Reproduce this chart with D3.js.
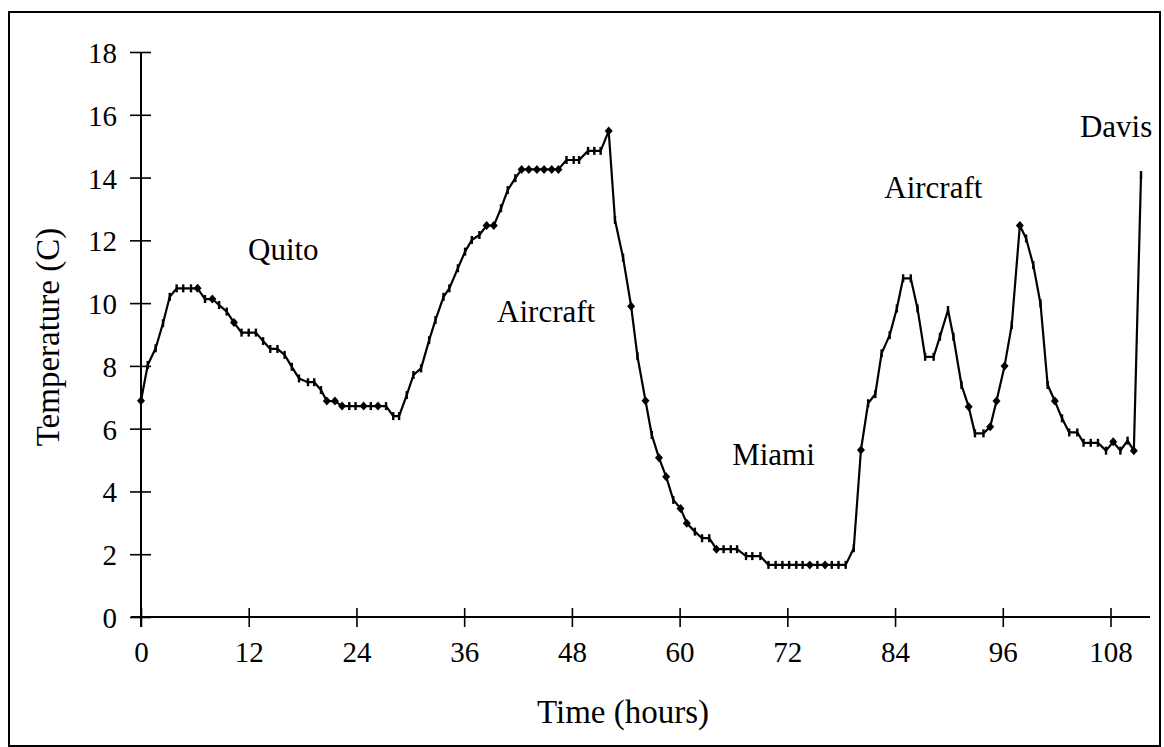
<!DOCTYPE html>
<html>
<head>
<meta charset="utf-8">
<script src="https://cdn.jsdelivr.net/npm/d3@7/dist/d3.min.js"></script>
<style>
  html, body { margin: 0; padding: 0; background: #fff; }
  svg { display: block; }
  text { font-family: "Liberation Serif", "Times New Roman", serif; fill: #000; }
</style>
</head>
<body>
<svg id="chart" width="1164" height="747"></svg>
<script>
// ---- data ----
const hours = [
  0, 0.75, 1.63, 2.45, 3.2, 3.97, 4.7, 5.57, 6.3, 7.13, 7.95, 8.7, 9.55, 10.36, 11.2, 12.0, 12.8,
  13.6, 14.4, 15.2, 16.0, 16.8, 17.6, 18.6, 19.3, 20.05, 20.7, 21.6, 22.4, 23.2, 23.9, 24.8, 25.6,
  26.4, 27.3, 28.1, 28.75, 29.6, 30.35, 31.2, 32.1, 32.8, 33.7, 34.35, 35.3, 36.1, 36.85, 37.7,
  38.5, 39.3, 40.1, 40.85, 41.7, 42.4, 43.2, 44.1, 44.9, 45.75, 46.5, 47.4, 48.2, 48.8, 49.8,
  50.5, 51.2, 52.1, 52.8, 53.7, 54.6, 55.3, 56.2, 56.9, 57.7, 58.5, 59.3, 60.1, 60.8, 61.7, 62.5,
  63.3, 64.1, 64.9, 65.7, 66.4, 67.4, 68.1, 69.0, 69.9, 70.7, 71.45, 72.2, 73.0, 73.7, 74.5, 75.35,
  76.2, 76.95, 77.7, 78.5, 79.4, 80.2, 81.0, 81.8, 82.5, 83.4, 84.2, 84.9, 85.75, 86.5, 87.35, 88.3,
  89.0, 89.9, 90.5, 91.4, 92.2, 92.9, 93.85, 94.6, 95.3, 96.2, 97.0, 97.9, 98.6, 99.4, 100.2, 101.0,
  101.8, 102.6, 103.4, 104.3, 105.0, 105.8, 106.6, 107.5, 108.3, 109.1, 109.9, 110.6, 111.4
];
const temps = [
  6.89, 8.03, 8.56, 9.36, 10.2, 10.47, 10.47, 10.47, 10.47, 10.13, 10.13, 9.94, 9.73, 9.38, 9.06, 9.06, 9.06,
  8.79, 8.54, 8.54, 8.35, 7.97, 7.6, 7.48, 7.48, 7.23, 6.88, 6.88, 6.72, 6.72, 6.72, 6.72, 6.72,
  6.72, 6.72, 6.4, 6.4, 7.07, 7.71, 7.92, 8.82, 9.46, 10.2, 10.47, 11.11, 11.64, 12.01, 12.17,
  12.47, 12.47, 13.02, 13.6, 13.98, 14.26, 14.26, 14.26, 14.26, 14.26, 14.26, 14.56, 14.56, 14.56, 14.85,
  14.85, 14.85, 15.48, 12.65, 11.45, 9.9, 8.31, 6.89, 5.8, 5.07, 4.47, 3.73, 3.46, 2.99, 2.72, 2.51,
  2.51, 2.16, 2.16, 2.16, 2.16, 1.94, 1.94, 1.94, 1.66, 1.66, 1.66, 1.66, 1.66, 1.66, 1.66, 1.66,
  1.66, 1.66, 1.66, 1.66, 2.19, 5.32, 6.81, 7.1, 8.4, 8.98, 9.83, 10.79, 10.79, 9.83, 8.29, 8.29,
  8.93, 9.78, 8.93, 7.39, 6.7, 5.85, 5.85, 6.06, 6.88, 8.0, 9.3, 12.47, 12.06, 11.21, 9.99, 7.39,
  6.88, 6.33, 5.88, 5.88, 5.55, 5.55, 5.55, 5.3, 5.58, 5.3, 5.62, 5.3, 14.08
];
const diamondHours = [0, 6.3, 7.95, 10.36, 20.7, 21.6, 22.4, 24.8, 26.4, 38.5, 39.3,
  42.4, 43.2, 44.1, 44.9, 45.75, 46.5, 52.1, 54.6, 56.2, 57.7, 58.5, 60.1, 60.8, 64.1,
  74.5, 76.2, 80.2, 92.2, 94.6, 95.3, 96.2, 97.9, 101.8, 108.3, 110.6];
const xTicks = [0, 12, 24, 36, 48, 60, 72, 84, 96, 108];
const yTicks = [0, 2, 4, 6, 8, 10, 12, 14, 16, 18];
const labels = [
  {text: "Quito", t: 11.92, v: 11.37},
  {text: "Aircraft", t: 39.67, v: 9.40},
  {text: "Miami", t: 65.85, v: 4.84},
  {text: "Aircraft", t: 82.8, v: 13.35},
  {text: "Davis", t: 104.6, v: 15.29}
];
const xTitle = "Time (hours)";
const yTitle = "Temperature (C)";

// ---- layout ----
const svg = d3.select("#chart");
const x = d3.scaleLinear().domain([0, 112.4]).range([141, 1150]);
const y = d3.scaleLinear().domain([0, 18]).range([617, 52]);

// outer frame
svg.append("rect").attr("x", 9).attr("y", 12).attr("width", 1151).attr("height", 734)
  .attr("fill", "none").attr("stroke", "#000").attr("stroke-width", 2);

// x axis
const xAxis = d3.axisBottom(x).tickValues(xTicks).tickSize(10).tickPadding(14).tickFormat(d3.format("d"));
const gx = svg.append("g").attr("transform", `translate(0,${y(0)})`).call(xAxis);
gx.select(".domain").attr("stroke-width", 2).attr("d", `M${x(0) - 10},0H${x.range()[1]}`);
gx.selectAll(".tick line").attr("y1", -9).attr("y2", 10).attr("stroke-width", 1.6);
gx.selectAll(".tick text").attr("font-size", 29).attr("font-family", "Liberation Serif").attr("dy", "0.71em");

// y axis
const yAxis = d3.axisLeft(y).tickValues(yTicks).tickSize(11).tickPadding(13).tickFormat(d3.format("d"));
const gy = svg.append("g").attr("transform", `translate(${x(0)},0)`).call(yAxis);
gy.select(".domain").attr("stroke-width", 2).attr("d", `M0,${y(18)}V${y(0) + 10}`);
gy.selectAll(".tick line").attr("x1", -11).attr("x2", 10).attr("stroke-width", 1.6);
gy.selectAll(".tick text").attr("font-size", 29).attr("font-family", "Liberation Serif").attr("dy", "0.36em");

// line
const pts = hours.map((h, i) => ({t: h, v: temps[i]}));
const line = d3.line().x(d => x(d.t)).y(d => y(d.v));
svg.append("path").datum(pts).attr("d", line).attr("fill", "none")
  .attr("stroke", "#000").attr("stroke-width", 2.2).attr("stroke-linejoin", "round");

// markers
const dset = new Set(diamondHours);
svg.append("g").selectAll("rect").data(pts.filter(d => !dset.has(d.t))).join("rect")
  .attr("x", d => x(d.t) - 1.2).attr("y", d => y(d.v) - 4)
  .attr("width", 2.4).attr("height", 8).attr("fill", "#000");
svg.append("g").selectAll("path").data(pts.filter(d => dset.has(d.t))).join("path")
  .attr("transform", d => `translate(${x(d.t)},${y(d.v)})`)
  .attr("d", "M0,-4.5L4,0L0,4.5L-4,0Z").attr("fill", "#000");

// annotations
svg.append("g").selectAll("text").data(labels).join("text")
  .attr("x", d => x(d.t)).attr("y", d => y(d.v))
  .attr("font-size", 31).text(d => d.text);

// axis titles
svg.append("text").attr("x", 623).attr("y", 723).attr("text-anchor", "middle")
  .attr("font-size", 33).text(xTitle);
svg.append("text").attr("transform", "translate(59,337) rotate(-90)").attr("text-anchor", "middle")
  .attr("font-size", 33).text(yTitle);
</script>
</body>
</html>
